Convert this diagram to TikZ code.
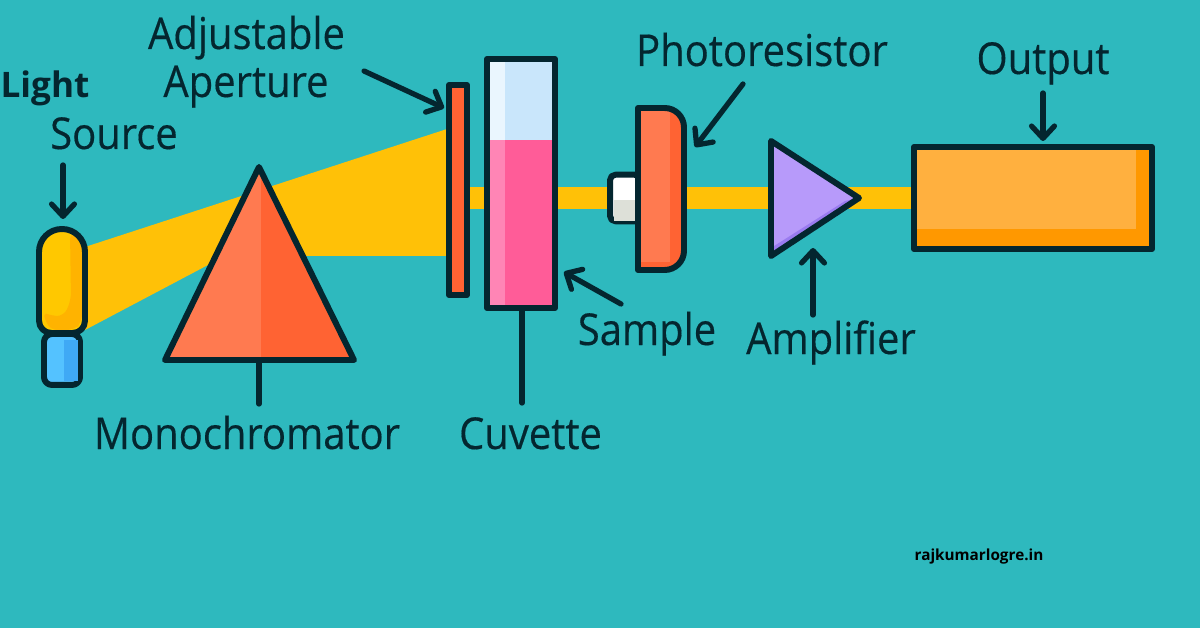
\documentclass[tikz,border=0pt]{standalone}
\usepackage{fontspec}
\setmainfont{Open Sans}
\newfontfamily\labelfont{Open Sans}[FakeStretch=0.91,FakeBold=0.35]
\usetikzlibrary{positioning,arrows.meta}

\definecolor{ink}{HTML}{04262F}
\definecolor{bgteal}{HTML}{2EB9BE}
\definecolor{beam}{HTML}{FFC107}
\definecolor{lampfill}{HTML}{FFC800}
\definecolor{lampdark}{HTML}{FFB300}
\definecolor{basefill}{HTML}{54C2FF}
\definecolor{basedark}{HTML}{3FA9F5}
\definecolor{coral}{HTML}{FF7A50}
\definecolor{coraldark}{HTML}{FF6333}
\definecolor{airfill}{HTML}{C9E6FB}
\definecolor{airlight}{HTML}{EAF6FE}
\definecolor{liquid}{HTML}{FF5C98}
\definecolor{liquidlight}{HTML}{FF85B5}
\definecolor{windowlow}{HTML}{DDE0D8}
\definecolor{violet}{HTML}{B79AFA}
\definecolor{violetdark}{HTML}{9A7BF0}
\definecolor{outfill}{HTML}{FFB03F}
\definecolor{outdark}{HTML}{FF9800}

\begin{document}
\begin{tikzpicture}[
  x=0.02cm,y=-0.02cm,
  part/.style={draw=ink,line width=3.4pt,line join=round,inner sep=0pt,outer sep=0pt},
  label/.style={text=ink,font=\labelfont\fontsize{25}{25}\selectfont,inner sep=0pt,anchor=base},
  pointer/.style={draw=ink,line width=3pt,line cap=round,-{Straight Barb[round,length=7pt,width=13pt]}},
  stem/.style={draw=ink,line width=3pt,line cap=round},
]
  \useasboundingbox[fill=bgteal] (0,0) rectangle (1200,628);

  % Light path
  \fill[beam] (85,247) -- (447,129) -- (447,256) -- (225,256) -- (85,330) -- cycle;
  \fill[beam] (465,187) rectangle (915,209);

  % Light source
  \node[part,fill=basefill,rounded corners=4.5pt,minimum width=20.5pt,minimum height=29pt,anchor=north] (base) at (62,334) {};
  \fill[basedark] (64,340) -- (78,340) -- (78,381) -- (64,381) -- cycle;
  \coordinate (lampA) at (39,229);
  \coordinate (lampB) at (85,229);
  \coordinate (lampC) at (85,333);
  \coordinate (lampD) at (39,333);
  \fill[lampfill] (39,280) [rounded corners=13pt] -- (lampA) -- (lampB) -- (85,280) [rounded corners=7pt] -- (lampC) -- (lampD) -- cycle;
  \fill[lampdark,rounded corners=4pt] (70,232) -- (82,240) -- (82,322) -- (74,330) -- (50,330) -- (42,312) -- (52,316) -- (64,316) -- (71,300) -- cycle;
  \draw[part] (39,280) [rounded corners=13pt] -- (lampA) -- (lampB) -- (85,280) [rounded corners=7pt] -- (lampC) -- (lampD) -- cycle;

  % Prism
  \coordinate (apex) at (259,167);
  \coordinate (prismL) at (165,360);
  \coordinate (prismR) at (354,360);
  \coordinate (prismfoot) at (259,360);
  \fill[coral] (apex) -- (prismL) -- (prismR) -- cycle;
  \fill[coraldark] (261,171) -- (prismR) -- (261,360) -- cycle;
  \draw[part] (apex) -- (prismL) -- (prismR) -- cycle;

  % Aperture
  \node[part,fill=coraldark,minimum width=10.2pt,minimum height=119.5pt] (aperture) at (458,190) {};

  % Cuvette
  \node[part,minimum width=38.7pt,minimum height=141.7pt,fill=liquid] (cuvette) at (521,183.5) {};
  \fill[airfill] (490,62) rectangle (552,140);
  \fill[airlight] (490,62) rectangle (505,140);
  \fill[liquidlight] (490,140) rectangle (505,305);

  % Photoresistor
  \node[part,fill=white,rounded corners=3pt,minimum width=17pt,minimum height=26.5pt] (window) at (625,198) {};
  \fill[windowlow] (614,200) rectangle (636,221);
  \coordinate (sensorA) at (638,108);
  \coordinate (sensorB) at (684,108);
  \coordinate (sensorC) at (684,270);
  \coordinate (sensorD) at (638,270);
  \begin{scope}
    \clip (sensorA) [rounded corners=11pt] -- (sensorB) -- (sensorC) [sharp corners] -- (sensorD) -- cycle;
    \fill[coral] (638,108) rectangle (684,270);
    \fill[coraldark] (670,108) rectangle (684,270);
    \fill[coraldark] (638,262) rectangle (684,270);
  \end{scope}
  \draw[part] (sensorA) [rounded corners=11pt] -- (sensorB) -- (sensorC) [sharp corners] -- (sensorD) -- cycle;

  % Amplifier
  \coordinate (ampA) at (771,141);
  \coordinate (ampB) at (771,256);
  \coordinate (ampC) at (859,198);
  \fill[violet] (ampA) -- (ampB) -- (ampC) -- cycle;
  \fill[violetdark] (771,248) -- (845,201) -- (ampC) -- (ampB) -- cycle;
  \draw[part] (ampA) -- (ampB) -- (ampC) -- cycle;

  % Output
  \node[part,fill=outfill,minimum width=135.5pt,minimum height=58pt] (output) at (1033,198) {};
  \fill[outdark] (1136,150) rectangle (1149,246);
  \fill[outdark] (917,229) rectangle (1149,246);

  % Labels
  \node[label,font=\fontsize{20}{20}\selectfont\bfseries] (lightlabel) at (45,98) {Light};
  \node[label] (sourcelabel) at (114,149) {Source};
  \node[label] (adjustlabel) at (246.5,49) {Adjustable};
  \node[label] (aperturelabel) at (246,97) {Aperture};
  \node[label] (monolabel) at (247,449) {Monochromator};
  \node[label] (cuvettelabel) at (530.5,449) {Cuvette};
  \node[label] (samplelabel) at (647,345) {Sample};
  \node[label] (amplabel) at (831,354) {Amplifier};
  \node[label] (photolabel) at (762,66) {Photoresistor};
  \node[label] (outputlabel) at (1043,74) {Output};
  \node[text=black,font=\fontsize{8.7}{8.7}\selectfont\bfseries,inner sep=0pt,anchor=base] (credit) at (979,560) {rajkumarlogre.in};

  % Free ends of the pointers
  \coordinate (lampfrom) at (63,165);
  \coordinate (lampto) at (63,219);
  \coordinate (aperturefrom) at (364,71);
  \coordinate (apertureto) at (444,108);
  \coordinate (samplefrom) at (621,304);
  \coordinate (sampleto) at (564,272);
  \coordinate (photofrom) at (743,84);
  \coordinate (phototo) at (695,147);
  \coordinate (ampfrom) at (813,315);
  \coordinate (ampto) at (813,248);
  \coordinate (outputfrom) at (1043,93);
  \coordinate (outputto) at (1043,141);
  \coordinate (monoend) at (259,404);
  \coordinate (cuvettefoot) at (522,311);
  \coordinate (cuvetteend) at (522,403);

  % Pointers
  \path (lampfrom) edge[pointer] (lampto);
  \path (aperturefrom) edge[pointer] (apertureto);
  \path (samplefrom) edge[pointer] (sampleto);
  \path (photofrom) edge[pointer] (phototo);
  \path (ampfrom) edge[pointer] (ampto);
  \path (outputfrom) edge[pointer] (outputto);
  \path (monoend) edge[stem] (prismfoot);
  \path (cuvetteend) edge[stem] (cuvettefoot);
\end{tikzpicture}
\end{document}
